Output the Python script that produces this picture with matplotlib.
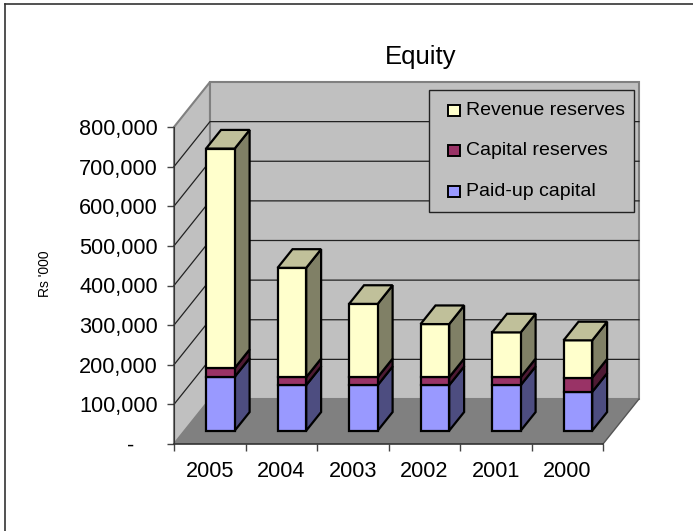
import matplotlib
matplotlib.use('Agg')
import matplotlib.pyplot as plt
from matplotlib.lines import Line2D
from matplotlib.patches import Polygon, Rectangle
from matplotlib.ticker import FuncFormatter

plt.rcParams['font.family'] = ['Liberation Sans', 'DejaVu Sans']

years = ['2005', '2004', '2003', '2002', '2001', '2000']
paid_up = [136000, 115000, 115000, 115000, 115000, 98000]
capital = [22000, 20000, 20000, 20000, 20000, 36000]
revenue = [554000, 276000, 185000, 134000, 113000, 94000]
series_names = ['Paid-up capital', 'Capital reserves', 'Revenue reserves']

front = ['#9999FF', '#993366', '#FFFFCC']
side = ['#4D4D80', '#4D1A33', '#808066']
top = ['#CCCCFF', '#CC99B3', '#C0C09A']

# fake 3d: depth goes up and to the right, in data units
px_x = 429 / 6
px_y = 317 / 800000
depth_x = 36 / px_x
depth_y = 45 / px_y
bar_w = 0.4
near, far = 0.296, 0.71
ymax = 800000

W, H = 693, 531
fig = plt.figure(figsize=(W / 100, H / 100), dpi=100, facecolor='white')
# chart frame runs off the right and bottom of the picture
fig.add_artist(Line2D([5 / W, 5 / W], [0, (H - 4) / H], transform=fig.transFigure, color='#333333', lw=1.2))
fig.add_artist(Line2D([5 / W, 1], [(H - 4) / H, (H - 4) / H], transform=fig.transFigure, color='#333333', lw=1.2))
ax = fig.add_axes([174 / W, (H - 444) / H, 429 / W, 317 / H])
ax.set_xlim(0, 6)
ax.set_ylim(0, ymax)
ax.patch.set_visible(False)
for s in ['top', 'right', 'bottom']:
    ax.spines[s].set_visible(False)
ax.spines['left'].set_color('#333333')


def shape(pts, fc, ec='none', lw=0, z=1):
    ax.add_patch(Polygon(pts, closed=True, fc=fc, ec=ec, lw=lw, zorder=z, clip_on=False,
                         joinstyle='miter'))


# walls and floor
shape([(0, 0), (depth_x, depth_y), (depth_x, ymax + depth_y), (0, ymax)], '#C0C0C0', '#808080', 1.5)
shape([(depth_x, depth_y), (6 + depth_x, depth_y), (6 + depth_x, ymax + depth_y), (depth_x, ymax + depth_y)],
      '#C0C0C0', '#808080', 1.5)
shape([(0, 0), (6, 0), (6 + depth_x, depth_y), (depth_x, depth_y)], '#808080', 'none', 0, 1.5)

# gridlines
for v in range(100000, ymax, 100000):
    ax.plot([0, depth_x, 6 + depth_x], [v, v + depth_y, v + depth_y], color='#222222', lw=0.9, zorder=2,
            clip_on=False)
ax.plot([0, 6], [0, 0], color='#333333', lw=1.2, zorder=3, clip_on=False)
ax.plot([6, 6 + depth_x], [0, depth_y], color='#555555', lw=1, zorder=2, clip_on=False)

# bars, front to back drawing order within each column
for i in range(len(years)):
    x0 = i + 0.5 - bar_w / 2 + near * depth_x
    x1 = x0 + bar_w
    dx = (far - near) * depth_x
    dy = (far - near) * depth_y
    bottom = near * depth_y
    for k, vals in enumerate([paid_up, capital, revenue]):
        t = bottom + vals[i]
        shape([(x1, bottom), (x1 + dx, bottom + dy), (x1 + dx, t + dy), (x1, t)], side[k], 'black', 1.6, 5 + i)
        shape([(x0, bottom), (x1, bottom), (x1, t), (x0, t)], front[k], 'black', 1.6, 5 + i)
        if k == 2:
            shape([(x0, t), (x1, t), (x1 + dx, t + dy), (x0 + dx, t + dy)], top[k], 'black', 1.6, 5 + i)
        bottom = t

ax.set_xticks(range(7))
ax.set_xticklabels([])
ax.set_xticks([i + 0.5 for i in range(6)], minor=True)
ax.set_xticklabels(years, minor=True, fontsize=15.6)
ax.tick_params(axis='x', which='major', length=5, width=1, color='#444444')
ax.tick_params(axis='x', which='minor', length=0, pad=12)
ax.set_yticks(range(0, ymax + 1, 100000))
ax.yaxis.set_major_formatter(FuncFormatter(lambda v, p: '-    ' if v == 0 else f'{int(v):,}'))
ax.tick_params(axis='y', length=5, width=1, color='#444444', labelsize=15.6, pad=6.5)
ax.set_ylabel("Rs '000", fontsize=10)
ax.yaxis.set_label_coords((52 - 174) / 429, (444 - 274) / 317)

fig.text(421 / W, (H - 57) / H, 'Equity', ha='center', va='center', fontsize=18.5)

# legend box
ax.add_patch(Rectangle((429 / W, (H - 211.5) / H), 205 / W, 122 / H, transform=fig.transFigure,
                       fc='#C0C0C0', ec='#222222', lw=1, zorder=20, clip_on=False))
rows = [(2, 110.5), (1, 150.5), (0, 191.5)]
for k, py in rows:
    ax.add_patch(Rectangle((448 / W, (H - py - 5.5) / H), 12 / W, 11 / H, transform=fig.transFigure,
                           fc=front[k], ec='black', lw=1.4, zorder=21, clip_on=False))
    fig.text(466 / W, (H - py) / H, series_names[k], ha='left', va='center', fontsize=14, zorder=22)

fig.savefig('out.png', dpi=100)
